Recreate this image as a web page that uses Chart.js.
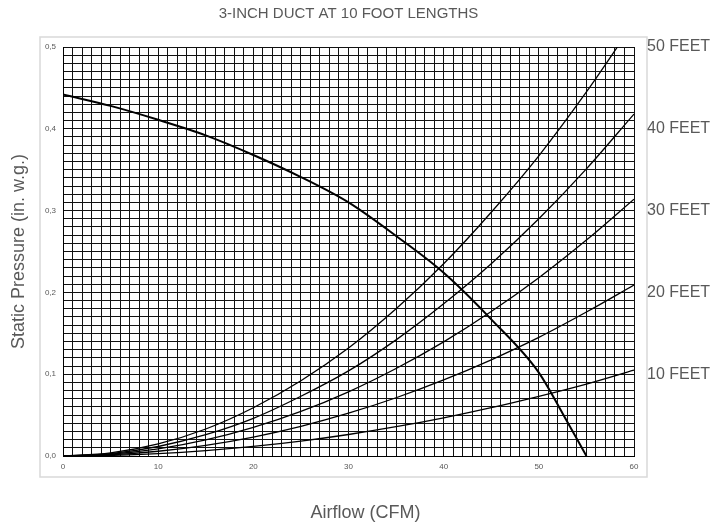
<!DOCTYPE html>
<html>
<head>
<meta charset="utf-8">
<script src="https://cdn.jsdelivr.net/npm/chart.js@4/dist/chart.umd.min.js"></script>
<style>
  html, body { margin: 0; padding: 0; background: #fff; }
  #wrap { width: 725px; height: 527px; }
</style>
</head>
<body>
<div id="wrap"><canvas id="c"></canvas></div>
<script>
// Airflow (CFM) points used by the duct curves
const cfm = [0, 5, 10, 15, 20, 25, 30, 35, 40, 45, 50, 55, 60];
// Static pressure for each duct length (in. w.g.)
const feet10 = [0, 0.0007, 0.0029, 0.0066, 0.0117, 0.0182, 0.0263, 0.0358, 0.0467, 0.0591, 0.073, 0.088, 0.105];
const feet20 = [0, 0.0015, 0.0058, 0.0131, 0.0232, 0.0363, 0.0523, 0.0712, 0.093, 0.1176, 0.145, 0.176, 0.209];
const feet30 = [0, 0.0022, 0.0087, 0.0196, 0.035, 0.0545, 0.0785, 0.107, 0.1395, 0.1766, 0.218, 0.264, 0.314];
const feet40 = [0, 0.0029, 0.0116, 0.026, 0.046, 0.073, 0.104, 0.142, 0.186, 0.235, 0.29, 0.351, 0.418];
const feet50 = [0, 0.0037, 0.0147, 0.033, 0.059, 0.092, 0.132, 0.18, 0.235, 0.298, 0.367, 0.445, 0.53];
// Fan curve
const fanCfm = [0, 5, 10, 15, 20, 25, 30, 35, 40, 45, 50, 52.5, 55];
const fanPressure = [0.442, 0.428, 0.411, 0.392, 0.368, 0.341, 0.31, 0.269, 0.224, 0.167, 0.102, 0.052, 0];
// Right-hand labels
const rightTicks = [0.1, 0.2, 0.3, 0.4, 0.5];
const rightLabels = ['10 FEET', '20 FEET', '30 FEET', '40 FEET', '50 FEET'];

const textColor = '#595959';

function pts(xs, ys) {
    return xs.map((x, i) => ({ x: x, y: ys[i] }));
}

function curve(xs, ys, width) {
    return {
        data: pts(xs, ys),
        borderColor: '#000',
        borderWidth: width,
        pointRadius: 0,
        fill: false,
        cubicInterpolationMode: 'monotone',
        yAxisID: 'y'
    };
}

// Cadre gris clair autour de la zone de tracé + titre de l'axe X
const framePlugin = {
    id: 'frame',
    beforeDraw(chart) {
        const a = chart.chartArea;
        const ctx = chart.ctx;
        ctx.save();
        ctx.strokeStyle = '#d9d9d9';
        ctx.lineWidth = 1.5;
        ctx.strokeRect(a.left - 23, a.top - 10, a.right - a.left + 36, a.bottom - a.top + 31);
        ctx.restore();
    },
    afterDraw(chart) {
        const ctx = chart.ctx;
        ctx.save();
        ctx.fillStyle = textColor;
        ctx.font = '18px "Liberation Sans"';
        ctx.textAlign = 'center';
        ctx.textBaseline = 'middle';
        ctx.fillText('Airflow (CFM)', chart.width / 2 + 3, chart.height - 14);
        ctx.restore();
    }
};

new Chart(document.getElementById('c'), {
    type: 'line',
    data: {
        datasets: [
            curve(cfm, feet10, 1.3),
            curve(cfm, feet20, 1.3),
            curve(cfm, feet30, 1.3),
            curve(cfm, feet40, 1.3),
            curve(cfm, feet50, 1.3),
            curve(fanCfm, fanPressure, 2)
        ]
    },
    options: {
        responsive: true,
        maintainAspectRatio: false,
        animation: false,
        layout: { padding: 0 },
        plugins: {
            legend: { display: false },
            tooltip: { enabled: false },
            title: {
                display: true,
                fullSize: false,
                text: '3-INCH DUCT AT 10 FOOT LENGTHS',
                color: textColor,
                font: { family: 'Liberation Sans', size: 15, weight: 'normal' },
                padding: { top: 5, bottom: 24 }
            }
        },
        scales: {
            x: {
                type: 'linear',
                min: 0,
                max: 60,
                afterFit(scale) { scale.height = 71; },
                ticks: {
                    stepSize: 1,
                    autoSkip: false,
                    maxRotation: 0,
                    padding: 6,
                    color: textColor,
                    font: { family: 'Liberation Sans', size: 8 },
                    callback: v => (Math.round(v) % 10 === 0 ? String(Math.round(v)) : '')
                },
                grid: { color: '#111', lineWidth: 1, drawTicks: false },
                border: { color: '#000' }
            },
            y: {
                min: 0,
                max: 0.5,
                afterFit(scale) { scale.width = 63; },
                ticks: {
                    stepSize: 0.01,
                    autoSkip: false,
                    padding: 7,
                    color: textColor,
                    font: { family: 'Liberation Sans', size: 8 },
                    callback: v => {
                        const n = Math.round(v * 100);
                        return n % 10 === 0 ? (n / 100).toFixed(1).replace('.', ',') : '';
                    }
                },
                grid: { color: '#111', lineWidth: 1, drawTicks: false },
                border: { color: '#000' },
                title: {
                    display: true,
                    text: 'Static Pressure (in. w.g.)',
                    color: textColor,
                    font: { family: 'Liberation Sans', size: 18 },
                    padding: { top: 8, bottom: 0 }
                }
            },
            y1: {
                position: 'right',
                min: 0,
                max: 0.5,
                afterFit(scale) { scale.width = 91; },
                afterBuildTicks(scale) { scale.ticks = rightTicks.map(v => ({ value: v })); },
                ticks: {
                    padding: 13,
                    color: textColor,
                    font: { family: 'Liberation Sans', size: 16 },
                    callback: (v, i) => rightLabels[i]
                },
                grid: { display: false, drawTicks: false },
                border: { display: false }
            }
        }
    },
    plugins: [framePlugin]
});
</script>
</body>
</html>
